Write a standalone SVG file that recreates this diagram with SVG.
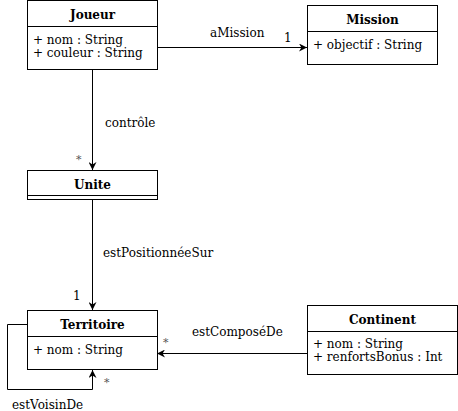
<svg xmlns="http://www.w3.org/2000/svg" width="458" height="411" viewBox="0 0 458 411">
<style>
.box{fill:#fff;stroke:#000;stroke-width:1}
.ln{fill:none;stroke:#000;stroke-width:1}
.t{font-family:"DejaVu Serif",serif;font-size:12px;fill:#000}
.b{font-weight:bold;text-anchor:middle}
.m{font-family:"DejaVu Serif",serif;font-size:11px;fill:#555}
</style>
<defs>
<marker id="arr" viewBox="0 0 10 10" refX="10" refY="5" markerWidth="8" markerHeight="8" markerUnits="userSpaceOnUse" orient="auto">
<path d="M0,0 L10,5 L0,10 L3,5 Z" fill="#000"/>
</marker>
</defs>
<rect width="458" height="411" fill="#fff"/>
<g id="connectors">
<path class="ln" d="M157,47.5 H307" marker-end="url(#arr)"/>
<text class="t" x="210" y="37">aMission</text>
<text class="t" x="284" y="42">1</text>
<path class="ln" d="M92.5,70 V170" marker-end="url(#arr)"/>
<text class="t" x="105" y="127">contrôle</text>
<text class="m" x="76" y="163">*</text>
<path class="ln" d="M92.5,200 V310" marker-end="url(#arr)"/>
<text class="t" x="103" y="257">estPositionnéeSur</text>
<text class="t" x="73" y="300">1</text>
<path class="ln" d="M307,353.5 H157" marker-end="url(#arr)"/>
<text class="t" x="192" y="336">estComposéDe</text>
<text class="m" x="163" y="346">*</text>
<path class="ln" d="M27,324.5 H7.5 V389.5 H92.5 V370" marker-end="url(#arr)"/>
<text class="m" x="104" y="386">*</text>
<text class="t" x="12" y="409">estVoisinDe</text>
</g>
<g id="joueur">
<rect class="box" x="27.5" y="0.5" width="130" height="69"/>
<path class="ln" d="M27.5,26.5 H157.5"/>
<text class="t b" x="92.5" y="19">Joueur</text>
<text class="t" x="33" y="44">+ nom : String</text>
<text class="t" x="33" y="57">+ couleur : String</text>
</g>
<g id="mission">
<rect class="box" x="307.5" y="5.5" width="130" height="59"/>
<path class="ln" d="M307.5,31.5 H437.5"/>
<text class="t b" x="372.5" y="24">Mission</text>
<text class="t" x="313" y="49">+ objectif : String</text>
</g>
<g id="unite">
<rect class="box" x="27.5" y="170.5" width="130" height="29"/>
<path class="ln" d="M27.5,195.5 H157.5"/>
<text class="t b" x="92.5" y="189">Unite</text>
</g>
<g id="territoire">
<rect class="box" x="27.5" y="310.5" width="130" height="59"/>
<path class="ln" d="M27.5,336.5 H157.5"/>
<text class="t b" x="92.5" y="329">Territoire</text>
<text class="t" x="33" y="354">+ nom : String</text>
</g>
<g id="continent">
<rect class="box" x="307.5" y="305.5" width="150" height="69"/>
<path class="ln" d="M307.5,331.5 H457.5"/>
<text class="t b" x="382.5" y="324">Continent</text>
<text class="t" x="313" y="348">+ nom : String</text>
<text class="t" x="313" y="361">+ renfortsBonus : Int</text>
</g>
</svg>
